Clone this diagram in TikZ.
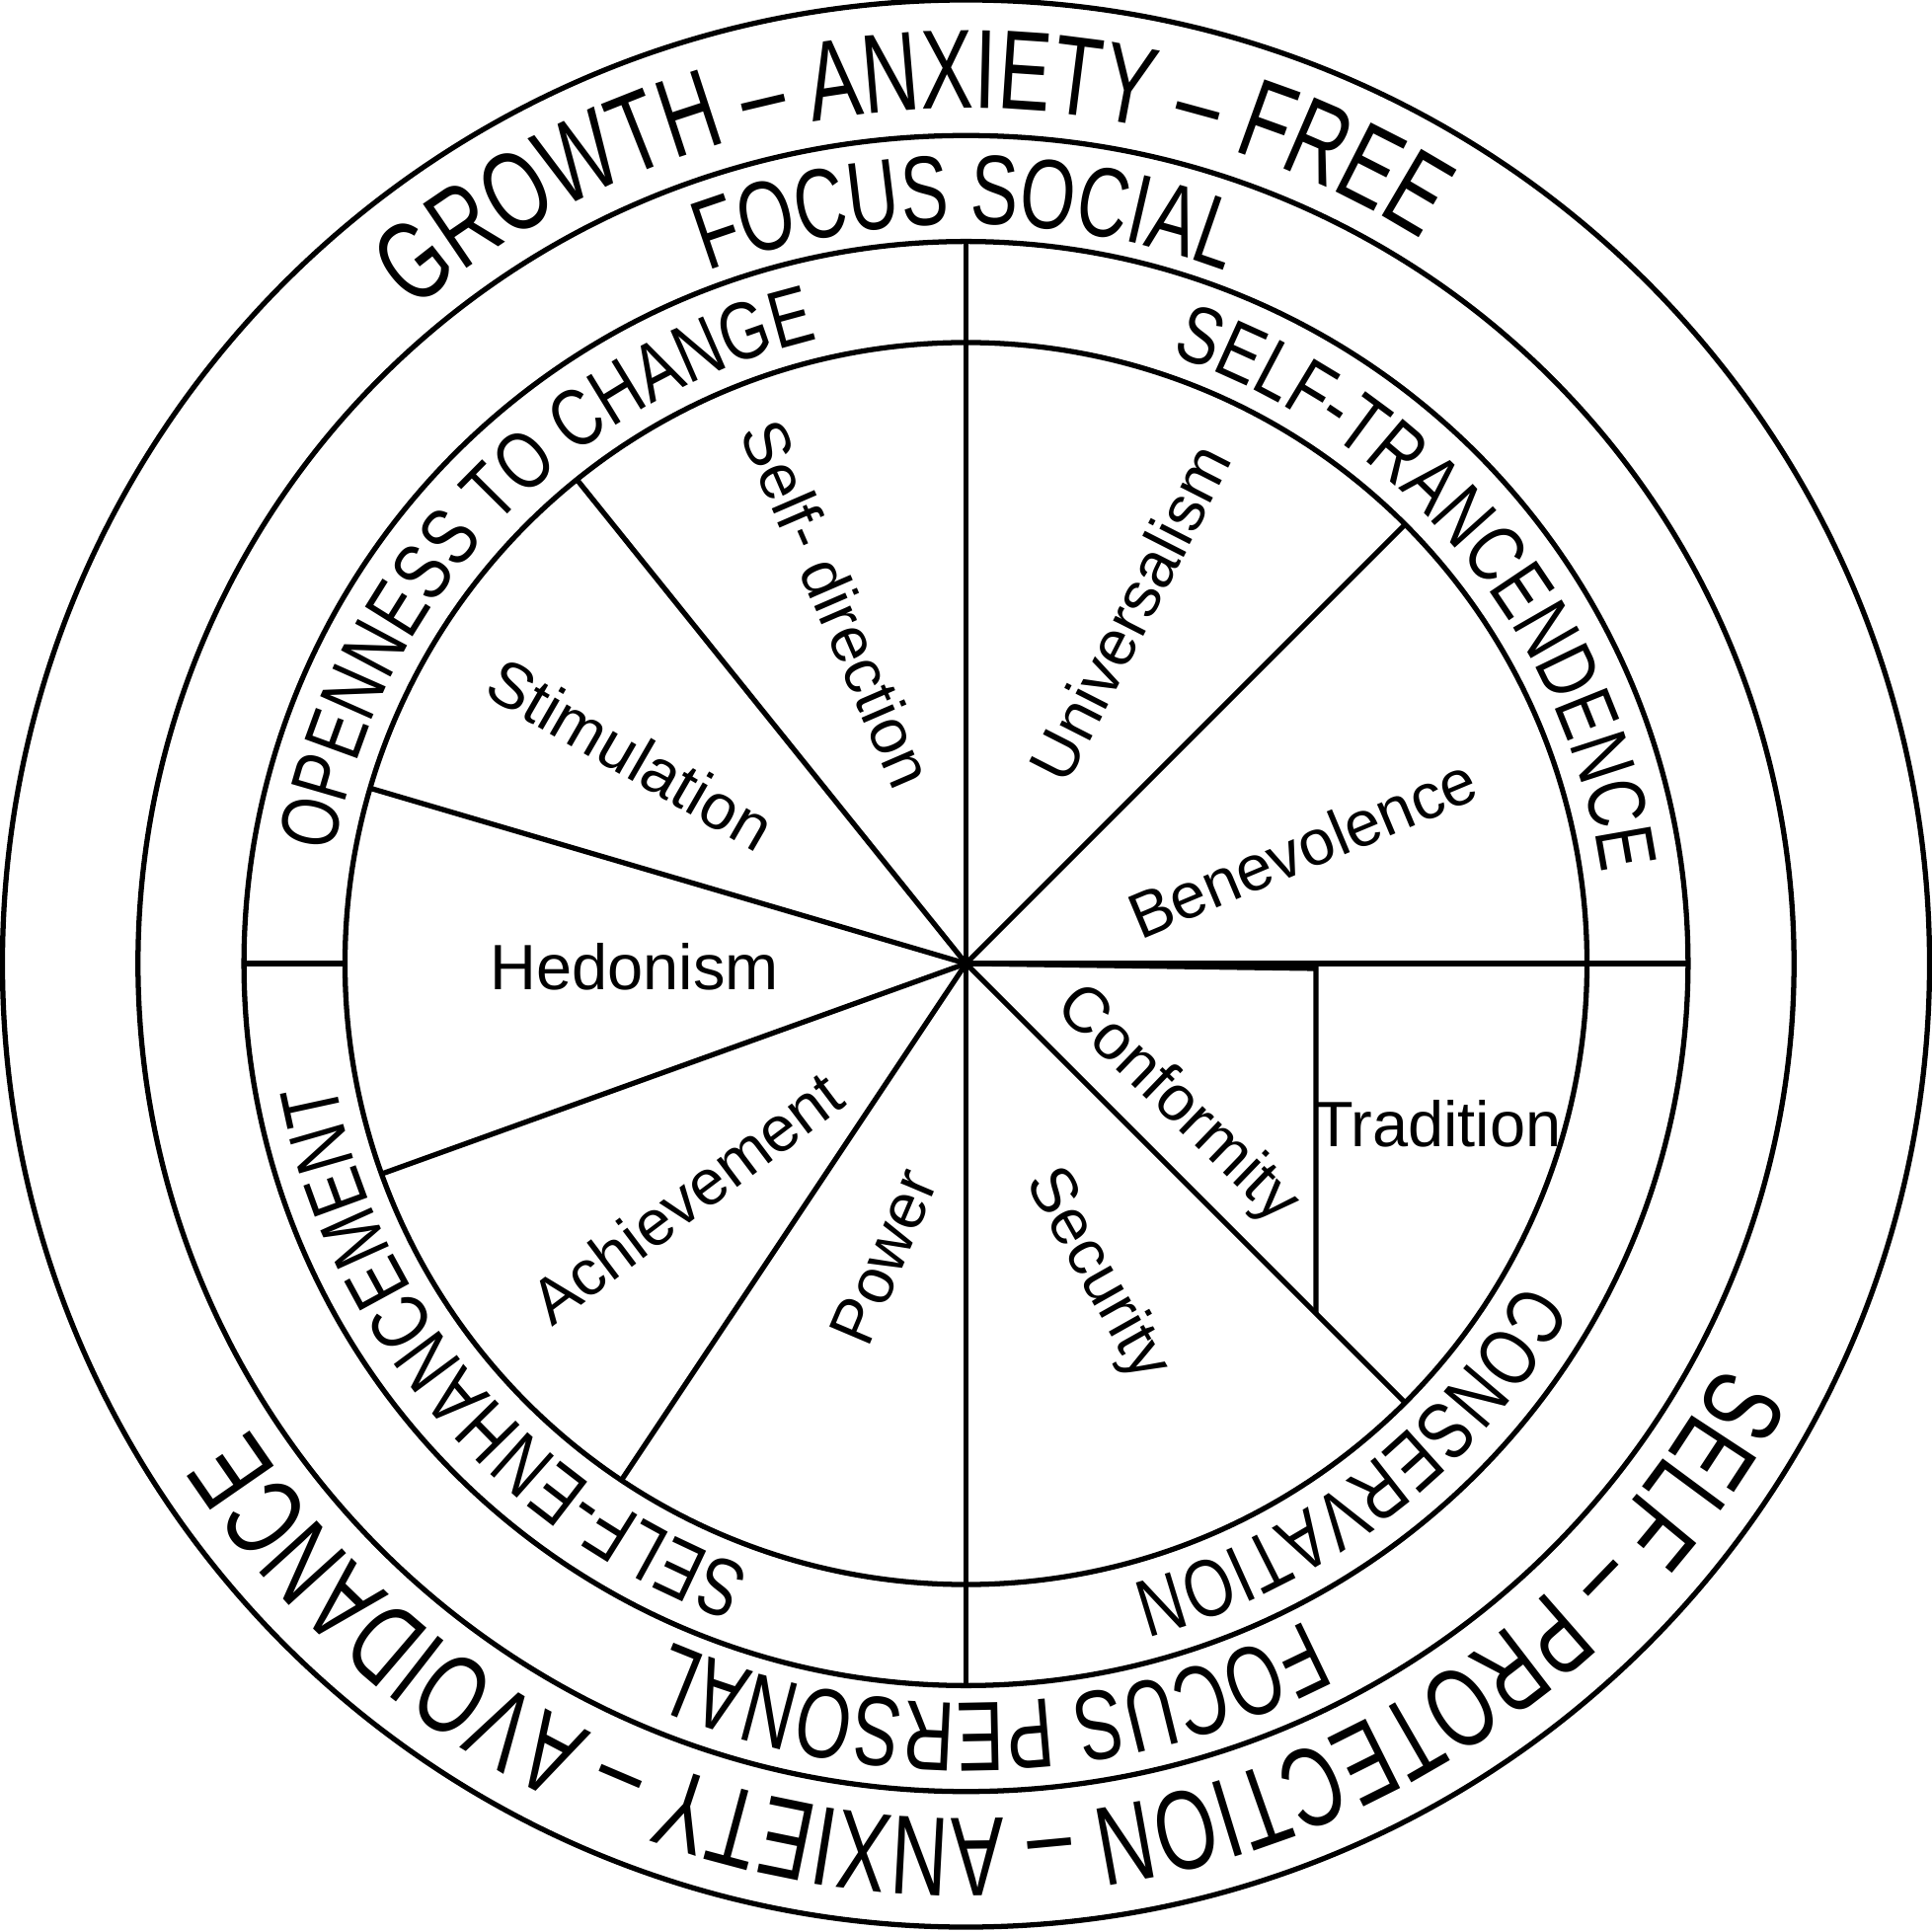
\documentclass[tikz,border=0pt]{standalone}
\usepackage{fontspec}
\setmainfont{Liberation Sans}
\newfontfamily\growfont[FakeStretch=0.7]{Liberation Sans}
\newfontfamily\focfont[FakeStretch=0.72]{Liberation Sans}
\newfontfamily\ringfont[FakeStretch=0.78]{Liberation Sans}
\usetikzlibrary{decorations.text}
\tikzset{
  ln/.style={line width=1.2pt},
  lbl/.style={font=\fontsize{14.8}{16}\selectfont, inner sep=0pt},
  arctext/.style={decorate, decoration={text along path, text align=center, text={#1}}}
}
\begin{document}
\begin{tikzpicture}
\useasboundingbox (-7.84,-7.86) rectangle (7.84,7.82);
\coordinate (c) at (0,0);
% circles
\draw[ln] (c) circle[radius=7.82cm];
\draw[ln] (c) circle[radius=6.72cm];
\draw[ln] (c) circle[radius=5.86cm];
\draw[ln] (c) circle[radius=5.04cm];
% spokes
\foreach \a [count=\i] in {90,128.8,163.6,199.8,236.3,270,315,0,45}{
  \coordinate (s\i) at (\a:5.04);
  \draw[ln] (c) -- (s\i);
}
\coordinate (t90) at (90:5.86); \draw[ln] (s1) -- (t90);
\coordinate (t270) at (270:5.86); \draw[ln] (s6) -- (t270);
\coordinate (t0) at (0:5.86); \draw[ln] (s8) -- (t0);
\coordinate (l1) at (180:5.04); \coordinate (l2) at (180:5.86); \draw[ln] (l1) -- (l2);
% tradition box
\coordinate (tr1) at (2.84,-0.04);
\coordinate (tr2) at (2.84,-2.84);
\draw[ln] (c) -- (tr1) -- (tr2);
% outer ring texts
\path[arctext={|\fontsize{26}{26}\selectfont\growfont|GROWTH – ANXIETY – FREE}]
  (164:6.94) arc[start angle=164, end angle=24, radius=6.94cm];
\path[arctext={|\fontsize{26}{26}\selectfont\growfont|SELF – PROTECTION – ANXIETY – AVOIDANCE}]
  (-10:6.94) arc[start angle=-10, end angle=-165, radius=6.94cm];
% focus ring
\path[arctext={|\fontsize{22.8}{23}\selectfont\focfont|FOCUS SOCIAL}]
  (150:6.0) arc[start angle=150, end angle=30, radius=6.0cm];
\path[arctext={|\fontsize{22.8}{23}\selectfont\focfont|FOCUS PERSONAL}]
  (-28:6.0) arc[start angle=-28, end angle=-148, radius=6.0cm];
% inner ring
\path[arctext={|\fontsize{18.8}{19}\selectfont\ringfont|OPENNESS TO CHANGE}]
  (186.7:5.21) arc[start angle=186.7, end angle=86.7, radius=5.21cm];
\path[arctext={|\fontsize{18.8}{19}\selectfont\ringfont|SELF-TRANCENDENCE}]
  (89.7:5.21) arc[start angle=89.7, end angle=-10.3, radius=5.21cm];
\path[arctext={|\fontsize{18.8}{19}\selectfont\ringfont|SELF-ENHANCEMENT}]
  (265.5:5.21) arc[start angle=265.5, end angle=175.5, radius=5.21cm];
\path[arctext={|\fontsize{18.8}{19}\selectfont\ringfont|CONSERVATION}]
  (-7.4:5.21) arc[start angle=-7.4, end angle=-97.4, radius=5.21cm];
% value labels
\node[lbl, rotate=-66.6] (sd) at (-1.04,2.92) {Self- direction};
\node[lbl, rotate=63] (un) at (1.33,2.85) {Universalism};
\node[lbl, rotate=-30] (st) at (-2.72,1.70) {Stimulation};
\node[lbl, rotate=22.7] (be) at (2.73,0.94) {Benevolence};
\node[lbl] (he) at (-2.69,-0.03) {Hedonism};
\node[lbl, rotate=37] (ac) at (-2.27,-1.90) {Achievement};
\node[lbl, rotate=67] (po) at (-0.67,-2.38) {Power};
\node[lbl, rotate=-60.6] (se) at (1.06,-2.53) {Security};
\node[lbl, rotate=-44] (co) at (1.71,-1.15) {Conformity};
\node[lbl] (tr) at (3.83,-1.30) {Tradition};
\end{tikzpicture}
\end{document}
